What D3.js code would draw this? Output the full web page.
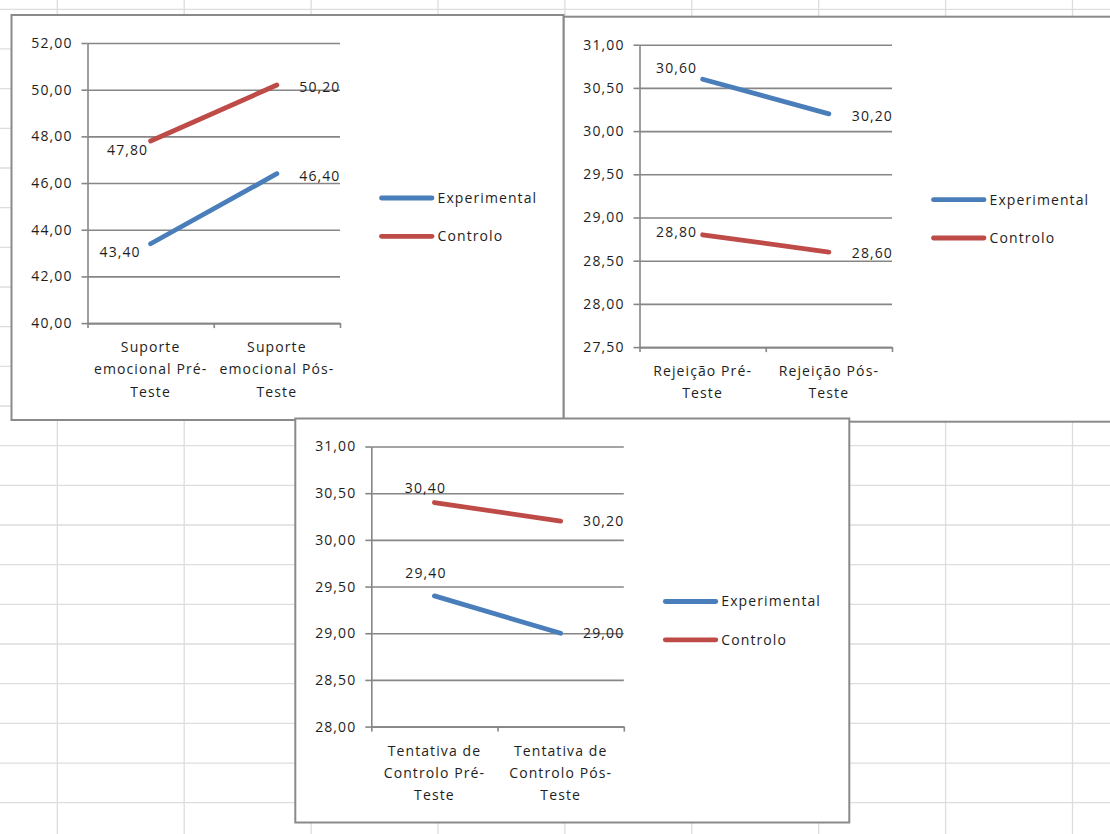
<!DOCTYPE html>
<html>
<head>
<meta charset="utf-8">
<script src="https://cdn.jsdelivr.net/npm/d3@7"></script>
<style>
  html, body { margin: 0; padding: 0; background: #fff; }
  svg { display: block; }
  text { font-family: "Open Sans", sans-serif; font-size: 14px; fill: #1e1e1e; letter-spacing: 1.1px; }
</style>
</head>
<body>
<svg id="sheet" width="1110" height="834"></svg>
<script>
// ---- data ----
const seriesNames = ["Experimental", "Controlo"];

const suporteCategories = [["Suporte", "emocional Pré-", "Teste"], ["Suporte", "emocional Pós-", "Teste"]];
const suporteExperimental = [43.4, 46.4];
const suporteControlo = [47.8, 50.2];
const suporteTicks = [40, 42, 44, 46, 48, 50, 52];

const rejeicaoCategories = [["Rejeição Pré-", "Teste"], ["Rejeição Pós-", "Teste"]];
const rejeicaoExperimental = [30.6, 30.2];
const rejeicaoControlo = [28.8, 28.6];
const rejeicaoTicks = [27.5, 28, 28.5, 29, 29.5, 30, 30.5, 31];

const tentativaCategories = [["Tentativa de", "Controlo Pré-", "Teste"], ["Tentativa de", "Controlo Pós-", "Teste"]];
const tentativaExperimental = [29.4, 29.0];
const tentativaControlo = [30.4, 30.2];
const tentativaTicks = [28, 28.5, 29, 29.5, 30, 30.5, 31];

// ---- styling ----
const seriesColors = ["#4a7ebb", "#be4b48"];
const axisColor = "#868686";
const ptFormat = d3.formatLocale({ decimal: ",", thousands: ".", grouping: [3], currency: ["", ""] }).format(".2f");

const svg = d3.select("#sheet");

// spreadsheet cell grid behind the charts
const colLines = d3.range(0, 9).map(k => 57.3 + k * 126.9);
const rowLines = d3.range(0, 22).map(k => 9.3 + k * 39.67);
const cells = svg.append("g").attr("stroke", "#dcdddf").attr("stroke-width", 1.3);
cells.selectAll("line.col").data(colLines).join("line")
  .attr("x1", d => d).attr("x2", d => d).attr("y1", 0).attr("y2", 834);
cells.selectAll("line.row").data(rowLines).join("line")
  .attr("x1", 0).attr("x2", 1110).attr("y1", d => d).attr("y2", d => d);

// one embedded line chart
function drawPanel(cfg) {
  const g = svg.append("g").attr("transform", `translate(${cfg.x},${cfg.y})`);
  g.append("rect").attr("x", 0).attr("y", 0).attr("width", cfg.w).attr("height", cfg.h)
    .attr("fill", "#fff").attr("stroke", "#8a8a8a").attr("stroke-width", 2);

  const nLines = cfg.categories[0].length;
  const left = 76, right = 328.5, top = 28;
  const bottom = 375 - nLines * 22.3;

  const y = d3.scaleLinear().domain(d3.extent(cfg.ticks)).range([bottom, top]);
  const xb = d3.scaleBand().domain(d3.range(cfg.categories.length)).range([left, right]).padding(0);
  const cx = i => xb(i) + xb.bandwidth() / 2;
  const xEdges = d3.scaleLinear().domain([0, cfg.categories.length]).range([left, right]);

  // horizontal gridlines
  const grid = g.append("g").attr("transform", `translate(${left},0)`)
    .call(d3.axisLeft(y).tickValues(cfg.ticks).tickSize(-(right - left)).tickFormat(""));
  grid.select(".domain").remove();
  grid.selectAll("line").attr("stroke", axisColor).attr("stroke-width", 1.6);

  // value axis
  const ya = g.append("g").attr("transform", `translate(${left},0)`)
    .call(d3.axisLeft(y).tickValues(cfg.ticks).tickSize(6).tickSizeOuter(0).tickPadding(9).tickFormat(ptFormat));
  ya.selectAll("line, path").attr("stroke", axisColor).attr("stroke-width", 1.6);
  ya.selectAll("text").attr("font-family", null).attr("font-size", null).attr("fill", null);

  // category axis
  const xa = g.append("g").attr("transform", `translate(0,${bottom})`)
    .call(d3.axisBottom(xEdges).tickValues(d3.range(cfg.categories.length + 1)).tickSize(5).tickSizeOuter(0).tickFormat(""));
  xa.selectAll("line, path").attr("stroke", axisColor).attr("stroke-width", 1.6);

  const catG = g.append("g");
  cfg.categories.forEach((lines, i) => {
    const t = catG.append("text").attr("text-anchor", "middle");
    lines.forEach((s, j) => {
      t.append("tspan").attr("x", cx(i)).attr("y", bottom + 24 + j * 22.3).attr("dy", "0.35em").text(s);
    });
  });

  // series lines
  const line = d3.line().x((d, i) => cx(i)).y(d => y(d));
  cfg.series.forEach((vals, s) => {
    g.append("path").datum(vals).attr("d", line)
      .attr("fill", "none").attr("stroke", seriesColors[s]).attr("stroke-width", 4.8)
      .attr("stroke-linecap", "round");
  });

  // data labels
  cfg.series.forEach((vals, s) => {
    vals.forEach((v, i) => {
      const off = cfg.labelOffsets[s][i];
      g.append("text").attr("text-anchor", "middle").attr("dy", "0.35em")
        .attr("x", cx(i) + off[0]).attr("y", y(v) + off[1]).text(ptFormat(v));
    });
  });

  // legend
  const lg = g.append("g");
  seriesNames.forEach((name, s) => {
    const ly = 183 + s * 38.3;
    lg.append("line").attr("x1", 370).attr("x2", 420.5).attr("y1", ly).attr("y2", ly)
      .attr("stroke", seriesColors[s]).attr("stroke-width", 4.8).attr("stroke-linecap", "round");
    lg.append("text").attr("x", 426).attr("y", ly).attr("dy", "0.35em").text(name);
  });
}

drawPanel({
  x: 563.5, y: 16.7, w: 552, h: 405,
  categories: rejeicaoCategories, ticks: rejeicaoTicks,
  series: [rejeicaoExperimental, rejeicaoControlo],
  labelOffsets: [[[-26, -11], [43.5, 2]], [[-26, -3], [43.5, 1]]]
});

drawPanel({
  x: 11.5, y: 15, w: 552, h: 405,
  categories: suporteCategories, ticks: suporteTicks,
  series: [suporteExperimental, suporteControlo],
  labelOffsets: [[[-30.5, 8.3], [43, 2]], [[-23, 9], [43, 2]]]
});

drawPanel({
  x: 295.3, y: 418.5, w: 554, h: 404,
  categories: tentativaCategories, ticks: tentativaTicks,
  series: [tentativaExperimental, tentativaControlo],
  labelOffsets: [[[-8.5, -23], [43, 0]], [[-9, -14], [43, 0]]]
});
</script>
</body>
</html>
